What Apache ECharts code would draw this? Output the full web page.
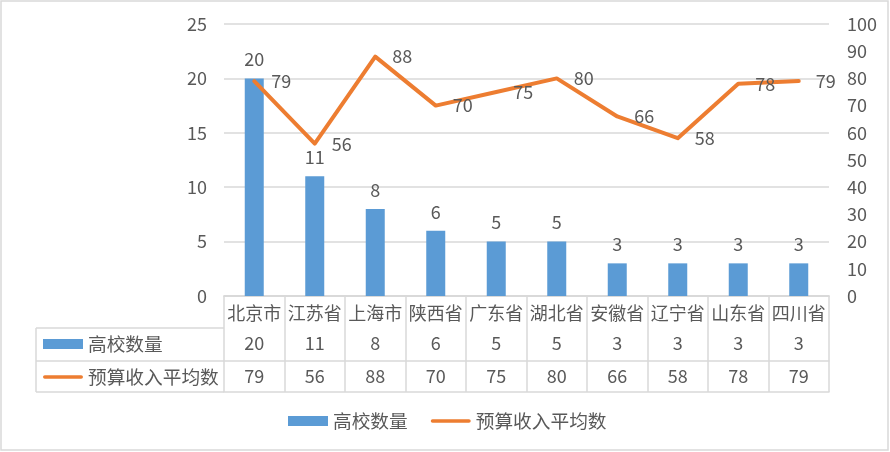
<!DOCTYPE html>
<html><head><meta charset="utf-8">
<script src="https://cdn.jsdelivr.net/npm/echarts@6/dist/echarts.min.js"></script>
<style>html,body{margin:0;padding:0;background:#fff}#c{width:890px;height:452px}</style>
</head><body><div id="c"></div>
<script>
const categories = ['北京市','江苏省','上海市','陕西省','广东省','湖北省','安徽省','辽宁省','山东省','四川省'];
const schoolCount = [20,11,8,6,5,5,3,3,3,3];
const budgetAvg = [79,56,88,70,75,80,66,58,78,79];
const seriesNames = ['高校数量','预算收入平均数'];

const FONT = '"Noto Sans CJK SC", "Noto Sans", sans-serif';
const TXT = '#595959', BORDER = '#d9d9d9';
const BLUE = '#5B9BD5', ORANGE = '#ED7D31';
const W = 890, H = 452;
const GL = 224, GR = 829, GT = 24, GB = 296;
const ROW1 = 32, ROW2 = 65, ROW3 = 96;  // table row line offsets below axis
const TABLE_LEFT = 36;
const NUM_SIZE = 18;
const LINE_ICON = 'path://M2,0 L42,0 A2,2 0 0 1 42,4 L2,4 A2,2 0 0 1 2,0 Z';

const chart = echarts.init(document.getElementById('c'), null, {renderer:'canvas'});

function rowAxis(offset, data, showLabel) {
  return {
    type:'category', gridIndex:0, position:'bottom', offset: offset, data: data,
    axisLine:{show:true, lineStyle:{color:BORDER, width:1.5}},
    axisTick:{show:false},
    axisLabel:{show:showLabel, interval:0, margin:6, color:TXT, fontSize:NUM_SIZE, fontFamily:FONT},
    splitLine:{show:false}
  };
}

const legendData = [{name:seriesNames[0], icon:'rect'}, {name:seriesNames[1], icon:LINE_ICON}];

const option = {
  backgroundColor:'#fff',
  animation:false,
  textStyle:{fontFamily:FONT},
  grid:{left:GL, right:W-GR, top:GT, bottom:H-GB, containLabel:false},
  legend:[
    {
      data:legendData, padding:0,
      orient:'horizontal', left:288, top:411, itemWidth:40, itemHeight:10, itemGap:23,
      symbolKeepAspect:true,
      textStyle:{color:TXT, fontSize:18.7, fontFamily:FONT, lineHeight:20}
    },
    {
      data:legendData, padding:0,
      orient:'vertical', left:43, top:334, itemWidth:40, itemHeight:10, itemGap:13,
      symbolKeepAspect:true, selectedMode:false,
      textStyle:{color:TXT, fontSize:18.7, fontFamily:FONT, lineHeight:20}
    }
  ],
  xAxis:[
    {
      type:'category', data:categories, position:'bottom',
      axisLine:{show:true, lineStyle:{color:BORDER, width:1.5}},
      axisTick:{show:true, interval:0, length:ROW3, lineStyle:{color:BORDER, width:1.5}},
      axisLabel:{interval:0, margin:8, color:TXT, fontSize:18, fontFamily:FONT},
      splitLine:{show:false}
    },
    rowAxis(ROW1, schoolCount.map(String), true),
    rowAxis(ROW2, budgetAvg.map(String), true),
    rowAxis(ROW3, categories.map(()=>''), false)
  ],
  yAxis:[
    {
      type:'value', min:0, max:25, interval:5, position:'left',
      axisLine:{show:false}, axisTick:{show:false},
      axisLabel:{margin:17, color:TXT, fontSize:NUM_SIZE, fontFamily:FONT},
      splitLine:{show:true, lineStyle:{color:BORDER, width:1.5}}
    },
    {
      type:'value', min:0, max:100, interval:10, position:'right',
      axisLine:{show:false}, axisTick:{show:false},
      axisLabel:{margin:18, color:TXT, fontSize:NUM_SIZE, fontFamily:FONT},
      splitLine:{show:false}
    }
  ],
  series:[
    {
      name:seriesNames[0], type:'bar', xAxisIndex:0, yAxisIndex:0, data:schoolCount,
      barWidth:19, itemStyle:{color:BLUE},
      label:{show:true, position:'top', distance:10, color:TXT, fontSize:NUM_SIZE, fontFamily:FONT}
    },
    {
      name:seriesNames[1], type:'line', xAxisIndex:0, yAxisIndex:1, data:budgetAvg,
      symbol:'circle', symbolSize:2, showSymbol:true,
      itemStyle:{color:ORANGE},
      lineStyle:{color:ORANGE, width:4, cap:'round', join:'round'},
      label:{show:true, position:'right', distance:16, color:TXT, fontSize:NUM_SIZE, fontFamily:FONT},
      z:3
    }
  ],
  graphic:[
    {type:'rect', shape:{x:1, y:1, width:W-3, height:H-3}, style:{fill:'none', stroke:BORDER, lineWidth:1.5}, silent:true},
    {type:'line', shape:{x1:TABLE_LEFT, y1:GB+ROW1, x2:GL, y2:GB+ROW1}, style:{stroke:BORDER, lineWidth:1.5}},
    {type:'line', shape:{x1:TABLE_LEFT, y1:GB+ROW2, x2:GL, y2:GB+ROW2}, style:{stroke:BORDER, lineWidth:1.5}},
    {type:'line', shape:{x1:TABLE_LEFT, y1:GB+ROW3, x2:GL, y2:GB+ROW3}, style:{stroke:BORDER, lineWidth:1.5}},
    {type:'line', shape:{x1:TABLE_LEFT, y1:GB+ROW1, x2:TABLE_LEFT, y2:GB+ROW3}, style:{stroke:BORDER, lineWidth:1.5}}
  ]
};
chart.setOption(option);
</script></body></html>
